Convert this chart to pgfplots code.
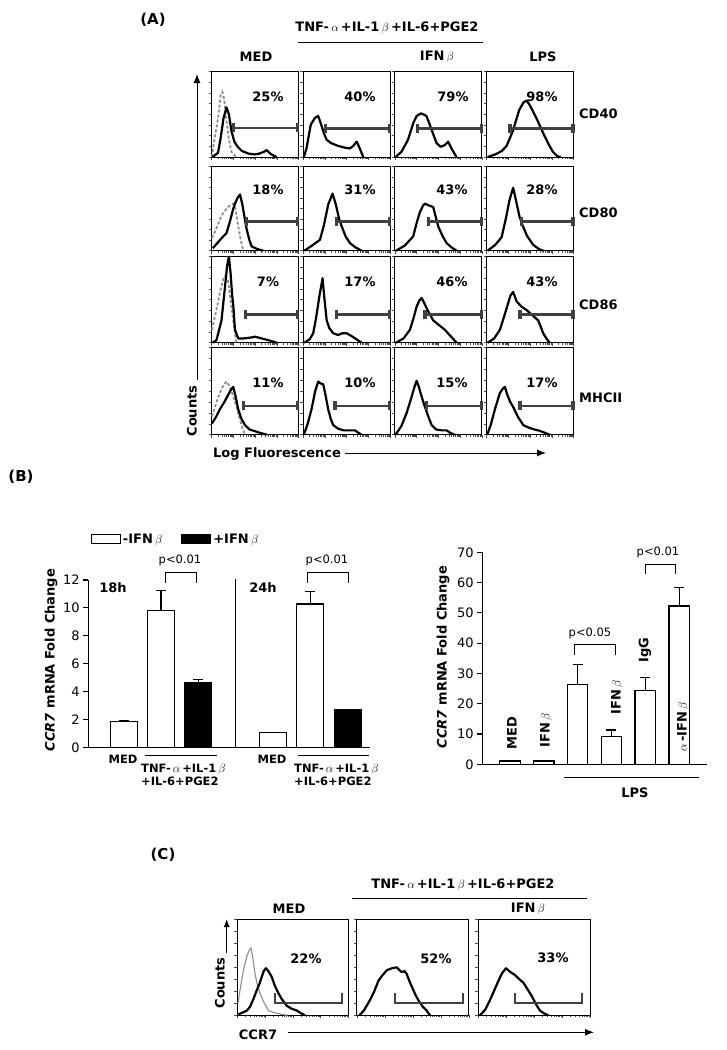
\documentclass[border=0pt]{standalone}
\usepackage{pgfplots}
\pgfplotsset{compat=1.18}
\usepackage{fontspec}
\setmainfont{DejaVu Sans}
\usetikzlibrary{arrows.meta}

\pgfplotsset{
  hA/.style={scale only axis, anchor=north west, width=87pt,
    xmin=0, xmax=4, ymin=0, ymax=100,
    xtick={0,1,2,3,4},
    minor xtick={0.301,0.477,0.602,0.699,0.778,0.845,0.903,0.954,
      1.301,1.477,1.602,1.699,1.778,1.845,1.903,1.954,
      2.301,2.477,2.602,2.699,2.778,2.845,2.903,2.954,
      3.301,3.477,3.602,3.699,3.778,3.845,3.903,3.954},
    ytick={0,12.5,...,100}, xticklabels={}, yticklabels={},
    tick pos=left, tick align=outside,
    major tick length=3pt, minor tick length=2pt,
    every tick/.style={black!70, line width=0.5pt},
    axis line style={line width=0.9pt}, clip=false},
  sol/.style={black, line width=2.2pt, line join=round, mark=none},
  iso/.style={black!45, line width=1.8pt, dash pattern=on 3pt off 2pt, mark=none},
  isoc/.style={black!45, line width=1.1pt, mark=none},
  gate/.style={black!75, line width=2.6pt, mark=|, mark size=4.5pt,
    mark options={line width=3.5pt, solid}},
  gatec/.style={black!75, line width=2.2pt, mark=none},
  barax/.style={scale only axis, anchor=south west, ybar,
    axis x line*=bottom, axis y line*=left,
    axis line style={-, line width=1.2pt},
    xtick=\empty, tick align=outside, ytick pos=left,
    major tick length=5pt, every tick/.style={black, line width=1.2pt},
    tick label style={font=\fontsize{13}{13}\selectfont},
    /pgf/number format/assume math mode=true, clip=false},
  ebar/.style={error bars/y dir=plus, error bars/y explicit,
    error bars/error mark=-,
    error bars/error bar style={line width=1.2pt, black},
    error bars/error mark options={rotate=90, mark size=5pt, line width=1.2pt, black}},
  bw/.style={fill=white, draw=black, line width=1.2pt, bar shift=0pt, ebar},
  bb/.style={fill=black, draw=black, line width=1.2pt, bar shift=0pt, ebar},
}
\tikzset{
  lab/.style={font=\bfseries\fontsize{13}{15}\selectfont, inner sep=0pt},
  labs/.style={font=\bfseries\fontsize{11.5}{12.5}\selectfont, inner sep=0pt},
  pv/.style={font=\fontsize{11.5}{13}\selectfont, inner sep=0pt},
}
\newcommand{\cock}{TNF-\,$\alpha$\,+IL-1\,$\beta$\,+IL-6+PGE2}

\begin{document}
\begin{tikzpicture}[x=1pt, y=-1pt]
\useasboundingbox (0,0) rectangle (726,1050);

% ---------------- (A) ----------------
\node[lab, font=\bfseries\fontsize{15}{17}\selectfont] at (153,20) {(A)};
\node[lab] at (387,28) {\cock};
\draw[line width=0.9pt] (298,42) -- (483,42);
\node[lab] at (256,57) {MED};
\node[lab] at (437,57) {IFN\,$\beta$};
\node[lab] at (543,57) {LPS};

% row 1: CD40
\begin{axis}[hA, height=85.5pt, at={(211.5pt,-71.5pt)}]
\addplot[iso] coordinates {(0.02,0)(0.1,15)(0.3,45)(0.42,72)(0.5,76)(0.58,68)(0.68,45)(0.8,20)(0.92,6)(1.05,2)(1.2,0)};
\addplot[sol] coordinates {(0.05,0)(0.3,5)(0.42,22)(0.55,45)(0.69,58)(0.8,50)(0.92,30)(1.05,18)(1.2,12)(1.4,7)(1.7,4)(2.0,3)(2.2,4)(2.4,6)(2.54,8)(2.7,4)(2.9,1)(3.0,0)};
\addplot[gate] coordinates {(1.0,34)(3.95,34)};
\end{axis}
\begin{axis}[hA, height=85.5pt, at={(303.2pt,-71.5pt)}]
\addplot[sol] coordinates {(0.03,0)(0.15,10)(0.35,38)(0.55,46)(0.69,48)(0.8,40)(0.95,28)(1.08,20)(1.3,16)(1.6,13)(1.9,11)(2.15,10)(2.3,13)(2.46,18)(2.6,10)(2.76,0)};
\addplot[gate] coordinates {(1.03,33)(3.97,33)};
\end{axis}
\begin{axis}[hA, height=85.5pt, at={(394.9pt,-71.5pt)}]
\addplot[sol] coordinates {(0.03,0)(0.3,6)(0.6,20)(0.85,40)(1.0,48)(1.2,51)(1.3,50)(1.45,48)(1.6,38)(1.8,24)(1.92,16)(2.1,12)(2.3,14)(2.45,18)(2.6,10)(2.83,0)};
\addplot[gate] coordinates {(1.04,33)(3.98,33)};
\end{axis}
\begin{axis}[hA, height=85.5pt, at={(486.6pt,-71.5pt)}]
\addplot[sol] coordinates {(0.05,0)(0.4,3)(0.7,7)(0.92,13)(1.2,30)(1.5,55)(1.7,64)(1.84,66)(2.0,60)(2.3,45)(2.6,28)(2.85,15)(3.05,6)(3.25,1)(3.4,0)};
\addplot[gate] coordinates {(1.07,33)(3.98,33)};
\end{axis}

% row 2: CD80
\begin{axis}[hA, height=84pt, at={(211.5pt,-166.7pt)}]
\addplot[iso] coordinates {(0.02,15)(0.2,25)(0.4,38)(0.54,45)(0.75,52)(1.0,56)(1.1,50)(1.23,29)(1.35,12)(1.46,0)};
\addplot[sol] coordinates {(0.06,3)(0.3,10)(0.5,16)(0.69,21)(0.85,35)(1.0,50)(1.08,56)(1.2,63)(1.31,67)(1.42,55)(1.55,35)(1.62,25)(1.75,12)(1.85,5)(2.1,2)(2.38,0)};
\addplot[gate] coordinates {(1.62,35)(3.95,35)};
\end{axis}
\begin{axis}[hA, height=84pt, at={(303.2pt,-166.7pt)}]
\addplot[sol] coordinates {(0.05,0)(0.4,6)(0.77,13)(0.95,30)(1.15,55)(1.35,68)(1.5,55)(1.65,38)(1.77,29)(1.95,17)(2.15,9)(2.4,4)(2.68,0)};
\addplot[gate] coordinates {(1.53,35)(3.97,35)};
\end{axis}
\begin{axis}[hA, height=84pt, at={(394.9pt,-166.7pt)}]
\addplot[sol] coordinates {(0.05,0)(0.45,6)(0.84,17)(1.0,33)(1.15,46)(1.3,54)(1.38,56)(1.55,54)(1.76,52)(1.88,40)(1.99,29)(2.2,17)(2.38,9)(2.6,4)(2.84,0)};
\addplot[gate] coordinates {(1.54,35)(3.98,35)};
\end{axis}
\begin{axis}[hA, height=84pt, at={(486.6pt,-166.7pt)}]
\addplot[sol] coordinates {(0.05,0)(0.4,7)(0.69,16)(0.9,40)(1.05,60)(1.22,75)(1.35,60)(1.5,42)(1.61,33)(1.85,18)(2.14,7)(2.4,2)(2.6,0)};
\addplot[gate] coordinates {(1.61,35)(3.98,35)};
\end{axis}

% row 3: CD86
\begin{axis}[hA, height=86pt, at={(211.5pt,-256.7pt)}]
\addplot[iso] coordinates {(0.02,15)(0.2,35)(0.4,60)(0.55,75)(0.62,77)(0.75,74)(0.85,55)(1.0,26)(1.08,10)(1.15,0)};
\addplot[sol] coordinates {(0.05,0)(0.23,3)(0.46,26)(0.6,60)(0.72,90)(0.8,100)(0.88,80)(0.95,55)(1.0,44)(1.08,15)(1.23,5)(1.5,5)(1.8,6)(2.0,7)(2.3,5)(2.6,3)(3.0,0)};
\addplot[gate] coordinates {(1.57,33)(3.95,33)};
\end{axis}
\begin{axis}[hA, height=86pt, at={(303.2pt,-256.7pt)}]
\addplot[sol] coordinates {(0.05,0)(0.3,4)(0.46,11)(0.6,30)(0.75,55)(0.89,75)(0.98,50)(1.08,26)(1.2,17)(1.38,11)(1.6,9)(1.8,11)(2.0,11)(2.2,8)(2.45,4)(2.68,0)};
\addplot[gate] coordinates {(1.53,33)(3.97,33)};
\end{axis}
\begin{axis}[hA, height=86pt, at={(394.9pt,-256.7pt)}]
\addplot[sol] coordinates {(0.05,0)(0.4,5)(0.69,15)(0.85,28)(1.0,42)(1.12,49)(1.23,52)(1.35,46)(1.5,38)(1.76,26)(2.0,21)(2.15,18)(2.3,15)(2.55,8)(2.84,0)};
\addplot[gate] coordinates {(1.38,33)(3.98,33)};
\end{axis}
\begin{axis}[hA, height=86pt, at={(486.6pt,-256.7pt)}]
\addplot[sol] coordinates {(0.05,0)(0.35,5)(0.61,15)(0.8,30)(0.99,46)(1.1,55)(1.22,59)(1.38,48)(1.6,42)(1.84,38)(2.1,32)(2.37,26)(2.5,18)(2.6,11)(2.75,5)(2.9,0)};
\addplot[gate] coordinates {(1.53,33)(3.98,33)};
\end{axis}

% row 4: MHCII
\begin{axis}[hA, height=87pt, at={(211.5pt,-347.7pt)}]
\addplot[iso] coordinates {(0.02,21)(0.2,35)(0.38,48)(0.55,57)(0.69,61)(0.85,55)(1.0,44)(1.15,32)(1.28,20)(1.39,10)(1.54,0)};
\addplot[sol] coordinates {(0.02,13)(0.2,20)(0.38,29)(0.6,38)(0.77,46)(0.9,52)(1.0,55)(1.1,45)(1.23,29)(1.38,18)(1.54,11)(1.75,6)(2.0,4)(2.25,2)(2.54,0)};
\addplot[gate] coordinates {(1.46,33)(3.95,33)};
\end{axis}
\begin{axis}[hA, height=87pt, at={(303.2pt,-347.7pt)}]
\addplot[sol] coordinates {(0.03,0)(0.2,12)(0.38,29)(0.55,50)(0.69,61)(0.8,59)(0.92,58)(1.03,45)(1.15,29)(1.27,18)(1.38,11)(1.6,7)(1.85,5)(2.1,5)(2.38,5)(2.55,2)(2.68,0)};
\addplot[gate] coordinates {(1.46,33)(3.97,33)};
\end{axis}
\begin{axis}[hA, height=87pt, at={(394.9pt,-347.7pt)}]
\addplot[sol] coordinates {(0.03,0)(0.3,10)(0.54,25)(0.75,42)(0.9,55)(1.0,62)(1.1,55)(1.25,42)(1.38,32)(1.55,20)(1.69,11)(1.9,6)(2.15,5)(2.38,5)(2.55,2)(2.76,0)};
\addplot[gate] coordinates {(1.46,33)(3.98,33)};
\end{axis}
\begin{axis}[hA, height=87pt, at={(486.6pt,-347.7pt)}]
\addplot[sol] coordinates {(0.03,0)(0.2,12)(0.38,29)(0.61,48)(0.75,53)(0.84,55)(0.95,46)(1.08,38)(1.22,32)(1.45,20)(1.69,11)(1.95,8)(2.2,6)(2.37,5)(2.6,3)(2.9,0)};
\addplot[gate] coordinates {(1.53,33)(3.98,33)};
\end{axis}

% percentages and row names
\node[lab] at (268,97) {25\%};  \node[lab] at (360,97) {40\%};
\node[lab] at (453,97) {79\%};  \node[lab] at (542,97) {98\%};
\node[lab] at (268,190) {18\%}; \node[lab] at (360,190) {31\%};
\node[lab] at (452,190) {43\%}; \node[lab] at (542,190) {28\%};
\node[lab] at (268,282) {7\%};  \node[lab] at (360,282) {17\%};
\node[lab] at (452,282) {46\%}; \node[lab] at (542,282) {43\%};
\node[lab] at (268,383) {11\%}; \node[lab] at (360,383) {10\%};
\node[lab] at (452,383) {15\%}; \node[lab] at (542,383) {17\%};
\node[lab, anchor=west] at (579,114) {CD40};
\node[lab, anchor=west] at (579,213) {CD80};
\node[lab, anchor=west] at (579,305) {CD86};
\node[lab, anchor=west] at (579,398) {MHCII};

\node[lab, rotate=90] at (192,411) {Counts};
\draw[line width=1pt, -{Latex[length=9pt, width=7pt]}] (197,380) -- (197,74);
\node[lab] at (277,454) {Log Fluorescence};
\draw[line width=1pt, -{Latex[length=9pt, width=7pt]}] (345,453) -- (546,453);

% ---------------- (B) ----------------
\node[lab, font=\bfseries\fontsize{15}{17}\selectfont] at (21,477) {(B)};

\begin{axis}[barax, width=281.7pt, height=167.3pt, at={(88.3pt,-747.3pt)},
  xmin=-0.95, xmax=6.6, ymin=0, ymax=12, ytick={0,2,...,12}, bar width=0.72,
  legend columns=2,
  legend style={at={(0.0085,1.245)}, anchor=west, draw=none, fill=none,
    inner sep=0pt, font=\bfseries\fontsize{13}{15}\selectfont,
    /tikz/every even column/.append style={column sep=17pt}}]
\addplot[bw, legend image code/.code={\draw[fill=white, draw=black, line width=1pt] (0pt,-4.5pt) rectangle (29pt,4.5pt);}]
  coordinates {(0,1.85) +- (0,0.1) (1,9.8) +- (0,1.43) (4,1.05) +- (0,0.03) (5,10.28) +- (0,0.88)};
\addlegendentry{-IFN\,$\beta$}
\addplot[bb, legend image code/.code={\draw[fill=black, draw=black, line width=1pt] (0pt,-4.5pt) rectangle (29pt,4.5pt);}]
  coordinates {(2,4.63) +- (0,0.22) (6,2.68) +- (0,0.05)};
\addlegendentry{+IFN\,$\beta$}
\draw[line width=1.2pt] (axis cs:3,0) -- (axis cs:3,12.1);
\draw[line width=1pt] (axis cs:1.13,11.81) -- (axis cs:1.13,12.52) -- (axis cs:1.95,12.52) -- (axis cs:1.95,11.81);
\draw[line width=1pt] (axis cs:4.93,11.81) -- (axis cs:4.93,12.52) -- (axis cs:6.02,12.52) -- (axis cs:6.02,11.81);
\end{axis}
\node[pv] at (180,560) {p<0.01};
\node[pv] at (327,560) {p<0.01};
\node[lab] at (113,588) {18h};
\node[lab] at (263,588) {24h};
\node[lab, rotate=90] at (51,660) {\textit{CCR7} mRNA Fold Change};
\node[labs] at (123,759) {MED};
\draw[line width=0.9pt] (145,755.7) -- (217,755.7);
\node[labs, anchor=north west, align=left] at (141,764) {TNF-\,$\alpha$\,+IL-1\,$\beta$\\+IL-6+PGE2};
\node[labs] at (272,759) {MED};
\draw[line width=0.9pt] (297.7,755.7) -- (369,755.7);
\node[labs, anchor=north west, align=left] at (294,764) {TNF-\,$\alpha$\,+IL-1\,$\beta$\\+IL-6+PGE2};

\begin{axis}[barax, width=224.4pt, height=212pt, at={(482.3pt,-764.3pt)},
  xmin=-0.81, xmax=5.81, ymin=0, ymax=70, ytick={0,10,...,70}, bar width=0.61]
\addplot[bw] coordinates {(0,1.1) +- (0,0.15) (1,1.1) +- (0,0.15) (2,26.4) +- (0,6.6)
  (3,9.3) +- (0,2.0) (4,24.5) +- (0,4.1) (5,52.3) +- (0,6.1)};
\draw[line width=1pt] (axis cs:1.90,36.1) -- (axis cs:1.90,39.4) -- (axis cs:3.11,39.4) -- (axis cs:3.11,36.1);
\draw[line width=1pt] (axis cs:4.0,62.8) -- (axis cs:4.0,66.0) -- (axis cs:4.9,66.0) -- (axis cs:4.9,62.8);
\end{axis}
\node[pv] at (590,633) {p<0.05};
\node[pv] at (658,552) {p<0.01};
\node[lab, rotate=90] at (512,733) {MED};
\node[lab, rotate=90] at (546,730) {IFN\,$\beta$};
\node[lab, rotate=90] at (617,697) {IFN\,$\beta$};
\node[lab, rotate=90] at (645,650) {IgG};
\node[lab, rotate=90] at (683,727) {$\alpha$\,-IFN\,$\beta$};
\draw[line width=0.9pt] (564,777.3) -- (699.3,777.3);
\node[lab] at (635,793) {LPS};
\node[lab, rotate=90] at (443,657) {\textit{CCR7} mRNA Fold Change};

% ---------------- (C) ----------------
\node[lab, font=\bfseries\fontsize{15}{17}\selectfont] at (163,855) {(C)};
\node[lab] at (463,885) {\cock};
\draw[line width=0.9pt] (351.7,898.3) -- (586.7,898.3);
\node[lab] at (289,909) {MED};
\node[lab] at (528,909) {IFN\,$\beta$};

\begin{axis}[hA, width=111pt, height=96pt, at={(237.3pt,-919.3pt)}]
\addplot[isoc] coordinates {(0.02,12)(0.12,30)(0.22,47)(0.35,62)(0.43,68)(0.49,70)(0.56,60)(0.64,43)(0.72,32)(0.82,23)(0.95,14)(1.12,5)(1.3,3)(1.6,1)(1.8,0)};
\addplot[sol] coordinates {(0.04,1)(0.2,3)(0.35,5)(0.46,9)(0.58,17)(0.7,26)(0.8,33)(0.88,40)(0.95,46)(1.03,49)(1.12,46)(1.24,40)(1.35,31)(1.48,23)(1.6,17)(1.78,10)(1.95,7)(2.14,5)(2.3,2)(2.44,0)};
\addplot[gatec] coordinates {(1.36,23)(1.36,13)(3.76,13)(3.76,23)};
\end{axis}
\begin{axis}[hA, width=112pt, height=96pt, at={(356.9pt,-919.3pt)}]
\addplot[sol] coordinates {(0.09,0)(0.25,5)(0.47,16)(0.62,25)(0.77,36)(0.92,42)(1.07,47)(1.25,49)(1.42,50)(1.52,47)(1.6,45)(1.7,46)(1.78,43)(1.87,36)(1.96,30)(2.08,22)(2.19,16)(2.35,9)(2.49,5)(2.61,0)};
\addplot[gatec] coordinates {(1.36,23)(1.36,13)(3.79,13)(3.79,23)};
\end{axis}
\begin{axis}[hA, width=112pt, height=96pt, at={(478.3pt,-919.3pt)}]
\addplot[sol] coordinates {(0.06,0)(0.25,6)(0.42,16)(0.57,26)(0.72,36)(0.85,44)(0.99,49)(1.15,45)(1.31,42)(1.45,38)(1.61,34)(1.76,27)(1.91,20)(2.05,12)(2.2,5)(2.35,2)(2.5,0)};
\addplot[gatec] coordinates {(1.31,23)(1.31,13)(3.70,13)(3.70,23)};
\end{axis}
\node[lab] at (306,959) {22\%};
\node[lab] at (436,959) {52\%};
\node[lab] at (553,958) {33\%};
\node[lab, rotate=90] at (220,983) {Counts};
\draw[line width=1pt, -{Latex[length=8pt, width=6pt]}] (226.7,953) -- (226.7,919);
\node[lab] at (258,1035) {CCR7};
\draw[line width=1pt, -{Latex[length=9pt, width=7pt]}] (288,1032.3) -- (594,1032.3);
\end{tikzpicture}
\end{document}
